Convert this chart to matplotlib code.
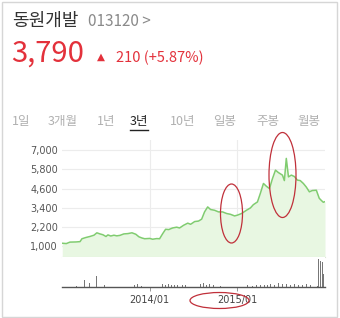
import matplotlib
matplotlib.use("Agg")
import matplotlib.pyplot as plt
from matplotlib.patches import Ellipse, Rectangle
import pandas as pd

plt.rcParams['font.family'] = ['Noto Sans CJK KR', 'DejaVu Sans']

# 종가 (원)
price_dates = [
    "2013-01-02", "2013-01-19", "2013-02-03", "2013-02-28", "2013-03-17", "2013-03-25",
    "2013-04-11", "2013-04-27", "2013-05-14", "2013-05-26", "2013-06-08", "2013-06-20",
    "2013-07-03", "2013-07-11", "2013-07-23", "2013-08-05", "2013-08-17", "2013-08-30",
    "2013-09-15", "2013-10-02", "2013-10-19", "2013-11-04", "2013-11-17", "2013-11-29",
    "2013-12-11", "2014-01-01", "2014-01-13", "2014-01-30", "2014-02-11", "2014-02-24",
    "2014-03-08", "2014-03-21", "2014-04-06", "2014-04-23", "2014-05-05", "2014-05-22",
    "2014-06-08", "2014-06-20", "2014-07-07", "2014-07-23", "2014-08-05", "2014-08-17",
    "2014-08-30", "2014-09-11", "2014-09-28", "2014-10-14", "2014-10-31", "2014-11-17",
    "2014-12-03", "2014-12-20", "2015-01-01", "2015-01-18", "2015-02-07", "2015-02-24",
    "2015-03-08", "2015-03-25", "2015-04-06", "2015-04-19", "2015-05-01", "2015-05-14",
    "2015-05-26", "2015-06-08", "2015-06-20", "2015-07-07", "2015-07-15", "2015-07-23",
    "2015-08-01", "2015-08-13", "2015-08-26", "2015-09-07", "2015-09-19", "2015-10-02",
    "2015-10-14", "2015-10-27", "2015-11-08", "2015-11-25", "2015-12-07", "2015-12-16",
    "2015-12-24", "2015-12-31",
]
price_values = [
    1200, 1180, 1270, 1280, 1300, 1480,
    1560, 1620, 1700, 1850, 1780, 1730,
    1620, 1720, 1650, 1700, 1660, 1690,
    1780, 1800, 1850, 1760, 1600, 1530,
    1480, 1500, 1450, 1490, 1480, 1800,
    2070, 2050, 2150, 2200, 2150, 2320,
    2450, 2380, 2550, 2580, 2700, 3150,
    3460, 3300, 3250, 3150, 3150, 3050,
    3000, 2900, 2950, 3050, 3250, 3400,
    3600, 3770, 4300, 4920, 4750, 4600,
    5200, 5750, 5600, 5440, 5100, 6480,
    5330, 5440, 5350, 5130, 5100, 4920,
    4700, 4400, 4480, 4500, 4000, 3860,
    3750, 3790,
]

# 거래량
vol_dates = [
    "2013-03-04", "2013-03-25", "2013-04-06", "2013-04-15", "2013-04-27", "2013-05-10",
    "2013-05-26", "2013-06-08", "2013-06-28", "2013-10-31", "2013-11-12", "2013-11-29",
    "2014-02-24", "2014-03-08", "2014-03-21", "2014-04-02", "2014-04-15", "2014-04-27",
    "2014-05-18", "2014-05-30", "2014-08-01", "2014-08-13", "2014-08-26", "2014-09-07",
    "2014-09-24", "2014-10-23", "2015-02-11", "2015-03-04", "2015-03-21", "2015-04-06",
    "2015-04-23", "2015-05-05", "2015-05-18", "2015-06-04", "2015-06-20", "2015-07-07",
    "2015-07-23", "2015-08-09", "2015-08-26", "2015-09-11", "2015-09-28", "2015-10-14",
    "2015-10-31", "2015-11-29", "2015-12-03", "2015-12-11", "2015-12-20", "2015-12-24",
]
vol_values = [
    100, 300, 700, 300, 400, 200,
    1100, 200, 200, 200, 300, 150,
    300, 250, 300, 200, 250, 200,
    200, 200, 300, 400, 250, 350,
    200, 150, 200, 150, 250, 200,
    250, 200, 300, 250, 400, 300,
    350, 200, 300, 250, 200, 300,
    250, 100, 2800, 2600, 2500, 1300,
]

y_ticks = [1000, 2200, 3400, 4600, 5800, 7000]
x_ticks = ["2014-01-01", "2015-01-01"]
x_ticklabels = ["2014/01", "2015/01"]
tabs = ["1일", "3개월", "1년", "3년", "10년", "일봉", "주봉", "월봉"]
tab_x = [12, 48, 97, 130, 170, 213, 256, 297]

W, H = 340, 318
fig = plt.figure(figsize=(W / 100, H / 100), dpi=100)
fig.patch.set_facecolor("white")

def fx(x):
    return x / W

def fy(y):
    return 1 - y / H

red = "#e3313b"

# frame
fig.patches.append(Rectangle((fx(1.5), fy(316.5)), fx(335), 315 / H, transform=fig.transFigure,
                             fill=False, edgecolor="#d6d6d6", linewidth=1))

# header
fig.text(fx(12), fy(21), "동원개발", fontsize=13, color="#333333", va="center")
fig.text(fx(88), fy(22), "013120 >", fontsize=11, color="#8a8a8a", va="center")
fig.text(fx(11), fy(54), "3,790", fontsize=21, color=red, va="center")
fig.text(fx(97), fy(57), "▲", fontsize=7.5, color=red, va="center", family=["DejaVu Sans"])
fig.text(fx(116), fy(58), "210 (+5.87%)", fontsize=10.5, color=red, va="center")

# tabs
for lab, x in zip(tabs, tab_x):
    if lab == "3년":
        fig.text(fx(x), fy(122), lab, fontsize=9, color="#222222", va="center")
        fig.add_artist(plt.Line2D([fx(x), fx(x + 18)], [fy(130), fy(130)],
                                  transform=fig.transFigure, color="#222222", linewidth=1))
    else:
        fig.text(fx(x), fy(122), lab, fontsize=9, color="#b0b0b0", va="center",
                 fontweight="light")

pdates = pd.to_datetime(price_dates)
vdates = pd.to_datetime(vol_dates)
xt = pd.to_datetime(x_ticks)
xmin, xmax = pd.Timestamp("2013-01-01"), pd.Timestamp("2015-12-31")

# price panel
ax = fig.add_axes([fx(62), fy(257), fx(263), 117 / H])
ax.fill_between(pdates, price_values, 0, color="#e8f7e2", linewidth=0)
ax.plot(pdates, price_values, color="#80cc70", linewidth=1.1)
ax.set_ylim(344, 7625)
ax.set_xlim(xmin, xmax)
ax.set_yticks(y_ticks)
ax.set_yticklabels([f"{v:,}" for v in y_ticks], fontsize=7, color="#555555",
                   family=["DejaVu Sans"])
ax.set_xticks(xt)
ax.set_xticklabels([])
ax.tick_params(length=0, pad=3)
ax.grid(True, color="#ececec", linewidth=0.8)
ax.set_axisbelow(True)
for s in ["top", "right", "left"]:
    ax.spines[s].set_visible(False)
ax.spines["bottom"].set_color("#dde8d8")

# volume panel
axv = fig.add_axes([fx(62), fy(287), fx(263), 30 / H])
axv.bar(vdates, vol_values, width=3.5, color="#777777", linewidth=0)
axv.set_xlim(xmin, xmax)
axv.set_ylim(0, 3000)
axv.set_yticks([])
axv.set_xticks(xt)
axv.set_xticklabels(x_ticklabels, fontsize=7, color="#444444", family=["DejaVu Sans"])
axv.tick_params(axis="x", length=3, width=0.6, color="#888888", pad=3)
for s in ["top", "right", "left"]:
    axv.spines[s].set_visible(False)
axv.spines["bottom"].set_color("#555555")
axv.spines["bottom"].set_linewidth(1)

# red marker ellipses
for cx, cy, w, h in [(231.5, 213.5, 22, 59), (282.5, 175, 27, 85), (219.5, 300.5, 59, 16)]:
    fig.patches.append(Ellipse((fx(cx), fy(cy)), w / W, h / H, transform=fig.transFigure,
                               fill=False, edgecolor="#c0303a", linewidth=0.9))

fig.savefig("out.png", dpi=100, facecolor="white")
